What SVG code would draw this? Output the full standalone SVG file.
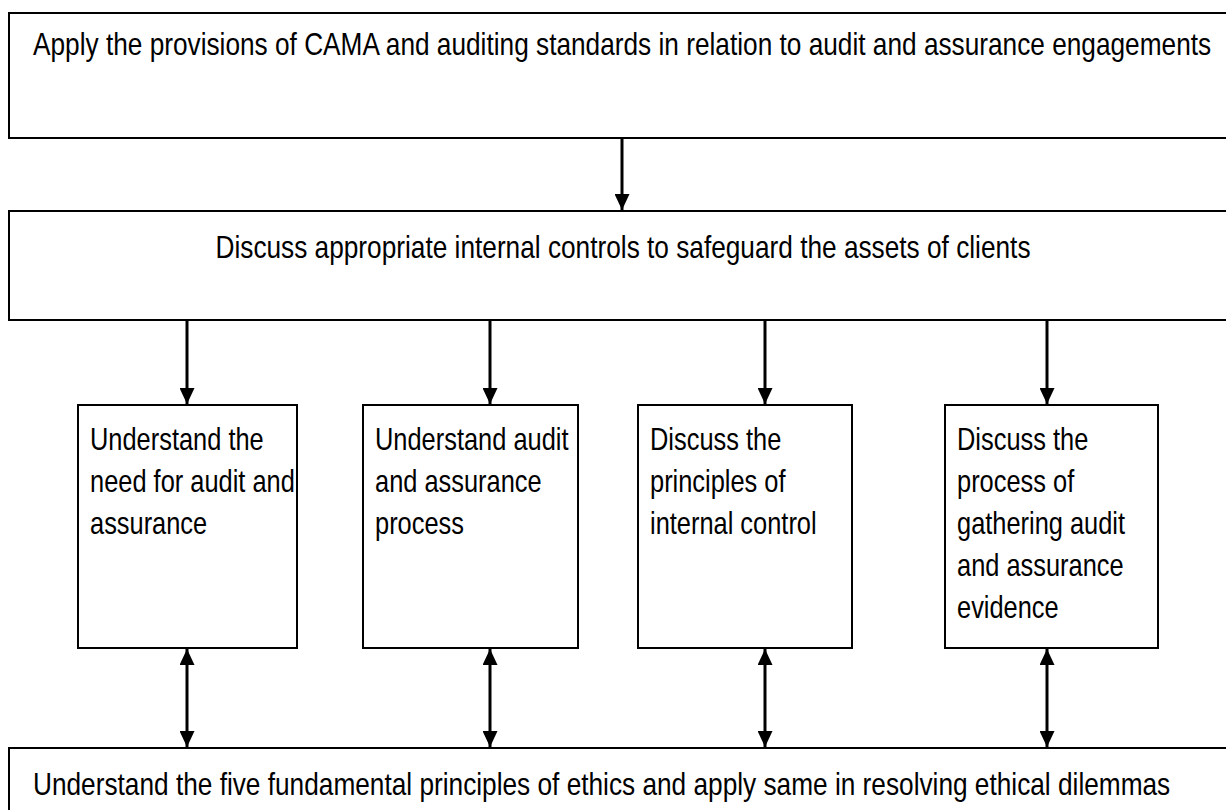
<svg xmlns="http://www.w3.org/2000/svg" width="1226" height="810" viewBox="0 0 1226 810">
  <style>
    .box { fill: #ffffff; stroke: #000000; stroke-width: 2; }
    .label { font-family: "Liberation Sans", Arial, sans-serif; font-size: 31px; fill: #000000; }
    .wide { font-size: 32px; }
    .link { stroke: #000000; stroke-width: 3; fill: none; }
  </style>
  <defs>
    <marker id="head" viewBox="0 0 16 15" refX="16" refY="7.5" markerWidth="16" markerHeight="15" markerUnits="userSpaceOnUse" orient="auto-start-reverse">
      <path d="M0,0 L16,7.5 L0,15 Z" fill="#000000"/>
    </marker>
  </defs>
  <rect width="1226" height="810" fill="#ffffff"/>

  <!-- labels use a condensed face: Liberation Sans squeezed horizontally -->
  <g id="node-cama">
    <rect class="box" x="9" y="13" width="1230" height="125"/>
    <g transform="translate(33,0) scale(0.82,1)">
      <text class="label wide" x="0" y="55">Apply the provisions of CAMA and auditing standards in relation to audit and assurance engagements</text>
    </g>
  </g>

  <g id="node-controls">
    <rect class="box" x="9" y="211" width="1230" height="109"/>
    <g transform="translate(623,0) scale(0.82,1)">
      <text class="label wide" x="0" y="258" text-anchor="middle">Discuss appropriate internal controls to safeguard the assets of clients</text>
    </g>
  </g>

  <g id="node-need">
    <rect class="box" x="78" y="405" width="219" height="243"/>
    <g transform="translate(90,0) scale(0.82,1)">
      <text class="label" x="0" y="450">Understand the</text>
      <text class="label" x="0" y="492">need for audit and</text>
      <text class="label" x="0" y="534">assurance</text>
    </g>
  </g>

  <g id="node-process">
    <rect class="box" x="363" y="405" width="215" height="243"/>
    <g transform="translate(375,0) scale(0.82,1)">
      <text class="label" x="0" y="450">Understand audit</text>
      <text class="label" x="0" y="492">and assurance</text>
      <text class="label" x="0" y="534">process</text>
    </g>
  </g>

  <g id="node-internal">
    <rect class="box" x="638" y="405" width="214" height="243"/>
    <g transform="translate(650,0) scale(0.82,1)">
      <text class="label" x="0" y="450">Discuss the</text>
      <text class="label" x="0" y="492">principles of</text>
      <text class="label" x="0" y="534">internal control</text>
    </g>
  </g>

  <g id="node-evidence">
    <rect class="box" x="945" y="405" width="213" height="243"/>
    <g transform="translate(957,0) scale(0.82,1)">
      <text class="label" x="0" y="450">Discuss the</text>
      <text class="label" x="0" y="492">process of</text>
      <text class="label" x="0" y="534">gathering audit</text>
      <text class="label" x="0" y="576">and assurance</text>
      <text class="label" x="0" y="618">evidence</text>
    </g>
  </g>

  <g id="node-ethics">
    <rect class="box" x="9" y="748" width="1230" height="80"/>
    <g transform="translate(33,0) scale(0.82,1)">
      <text class="label wide" x="0" y="795">Understand the five fundamental principles of ethics and apply same in resolving ethical dilemmas</text>
    </g>
  </g>

  <g id="connectors">
    <line class="link" x1="622" y1="138" x2="622" y2="210" marker-end="url(#head)"/>
    <line class="link" x1="187" y1="320" x2="187" y2="404" marker-end="url(#head)"/>
    <line class="link" x1="490" y1="320" x2="490" y2="404" marker-end="url(#head)"/>
    <line class="link" x1="765" y1="320" x2="765" y2="404" marker-end="url(#head)"/>
    <line class="link" x1="1047" y1="320" x2="1047" y2="404" marker-end="url(#head)"/>
    <line class="link" x1="187" y1="649" x2="187" y2="747" marker-start="url(#head)" marker-end="url(#head)"/>
    <line class="link" x1="490" y1="649" x2="490" y2="747" marker-start="url(#head)" marker-end="url(#head)"/>
    <line class="link" x1="765" y1="649" x2="765" y2="747" marker-start="url(#head)" marker-end="url(#head)"/>
    <line class="link" x1="1047" y1="649" x2="1047" y2="747" marker-start="url(#head)" marker-end="url(#head)"/>
  </g>
</svg>
